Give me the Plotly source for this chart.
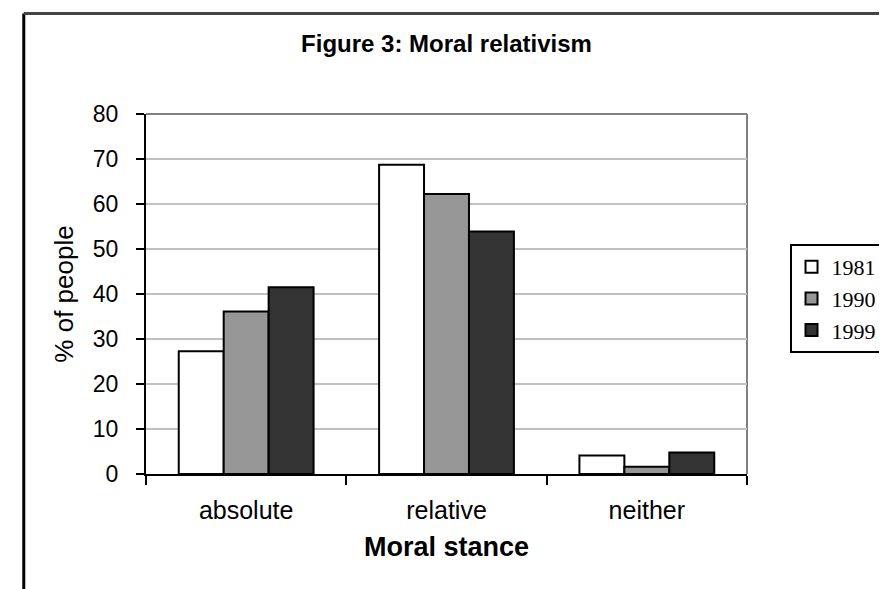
import plotly.graph_objects as go

categories = ["absolute", "relative", "neither"]
years = ["1981", "1990", "1999"]
values_1981 = [27.3, 68.7, 4.1]
values_1990 = [36.1, 62.2, 1.6]
values_1999 = [41.5, 53.9, 4.8]
colors = ["#ffffff", "#969696", "#333333"]
y_ticks = [0, 10, 20, 30, 40, 50, 60, 70, 80]

series = [values_1981, values_1990, values_1999]

fig = go.Figure()
for name, vals, col in zip(years, series, colors):
    fig.add_trace(go.Bar(
        x=categories, y=vals, name=name,
        marker=dict(color=col, line=dict(color="black", width=2)),
    ))

L, R, T, B = 138, 127, 106, 123
W, H = 887 - L - R, 589 - T - B

def px_x(p):
    return (p - L) / W

def px_y(p):
    return (589 - B - p) / H

shapes = [
    # plot area border (top / right in gray)
    dict(type="line", xref="paper", yref="paper", x0=0, x1=1, y0=1, y1=1,
         line=dict(color="#808080", width=2), layer="below"),
    dict(type="line", xref="paper", yref="paper", x0=1, x1=1, y0=0, y1=1,
         line=dict(color="#808080", width=2), layer="below"),
    # outer chart frame
    dict(type="line", xref="paper", yref="paper", x0=px_x(11.5), x1=px_x(11.5),
         y0=px_y(5.5), y1=px_y(600), line=dict(color="black", width=3)),
    dict(type="line", xref="paper", yref="paper", x0=px_x(11.5), x1=px_x(900),
         y0=px_y(5.5), y1=px_y(5.5), line=dict(color="#444444", width=3)),
]

fig.update_layout(
    width=887, height=589,
    margin=dict(l=L, r=R, t=T, b=B),
    paper_bgcolor="white", plot_bgcolor="white",
    font=dict(family="Liberation Sans, Arial, sans-serif", color="black"),
    title=dict(text="<b>Figure 3: Moral relativism</b>", x=0.5, xref="paper",
               xanchor="center", y=1 - 36 / 589, yanchor="middle",
               font=dict(size=24, color="black")),
    barmode="group", bargap=0.327, bargroupgap=0,
    xaxis=dict(
        showline=True, linecolor="black", linewidth=2,
        ticks="outside", ticklen=9, tickwidth=2, tickcolor="black",
        tickson="boundaries", tickfont=dict(size=25),
        ticklabelstandoff=13,
        title=dict(text="<b>Moral stance</b>", font=dict(size=27), standoff=14),
        showgrid=False,
    ),
    yaxis=dict(
        range=[0, 80], tickvals=y_ticks,
        showline=True, linecolor="black", linewidth=2,
        ticks="outside", ticklen=8, tickwidth=2, tickcolor="black",
        tickfont=dict(size=23), ticklabelstandoff=13,
        showgrid=True, gridcolor="#c0c0c0", gridwidth=2,
        zeroline=False,
        title=dict(text="% of people", font=dict(size=26), standoff=12),
    ),
    legend=dict(
        x=px_x(804), xanchor="left", y=px_y(236), yanchor="top",
        bordercolor="black", borderwidth=2, bgcolor="white",
        font=dict(family="Liberation Serif, Times New Roman, serif", size=22),
        itemclick=False, itemdoubleclick=False, tracegroupgap=6,
    ),
    shapes=shapes,
    showlegend=True,
)

fig.write_html("out.html")
